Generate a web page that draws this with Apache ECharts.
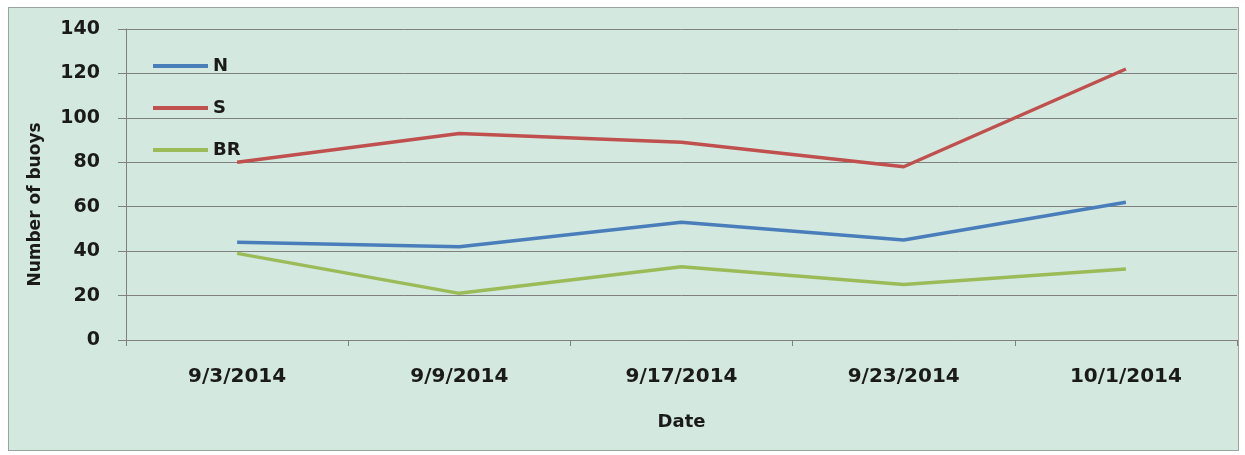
<!DOCTYPE html>
<html>
<head>
<meta charset="utf-8">
<script src="https://cdn.jsdelivr.net/npm/echarts@6/dist/echarts.min.js"></script>
<style>
  html, body { margin: 0; padding: 0; background: #ffffff; }
  #frame {
    position: absolute; left: 8px; top: 7px; width: 1229px; height: 442px;
    border: 1px solid #9aa5a0; background: #d3e8df;
  }
  #main { position: absolute; left: -9px; top: -8px; width: 1245px; height: 455px; }
</style>
</head>
<body>
<div id="frame"><div id="main"></div></div>
<script>
var dates = ['9/3/2014', '9/9/2014', '9/17/2014', '9/23/2014', '10/1/2014'];
var nValues = [44, 42, 53, 45, 62];
var sValues = [80, 93, 89, 78, 122];
var brValues = [39, 21, 33, 25, 32];

var myChart = echarts.init(document.getElementById('main'));
var font = 'DejaVu Sans';

var option = {
    animation: false,
    grid: { left: 126, right: 8, top: 29, bottom: 115 },
    legend: {
        orient: 'vertical',
        left: 148,
        top: 52,
        itemWidth: 55,
        itemHeight: 4,
        itemGap: 24,
        icon: 'rect',
        textStyle: { fontFamily: font, fontWeight: 'bold', fontSize: 18, color: '#1a1a1a' },
        data: ['N', 'S', 'BR']
    },
    xAxis: {
        type: 'category',
        data: dates,
        name: 'Date',
        nameLocation: 'middle',
        nameGap: 73,
        nameTextStyle: { fontFamily: font, fontWeight: 'bold', fontSize: 18, color: '#1a1a1a' },
        axisLine: { lineStyle: { color: '#808080', width: 1 } },
        axisTick: { show: true, length: 6, lineStyle: { color: '#808080' } },
        axisLabel: { fontFamily: font, fontWeight: 'bold', fontSize: 20, color: '#1a1a1a', margin: 27 }
    },
    yAxis: {
        type: 'value',
        min: 0,
        max: 140,
        interval: 20,
        name: 'Number of buoys',
        nameLocation: 'middle',
        nameGap: 82,
        nameTextStyle: { fontFamily: font, fontWeight: 'bold', fontSize: 17, color: '#1a1a1a', padding: [0, 40, 0, 0] },
        axisLine: { show: true, lineStyle: { color: '#808080', width: 1 } },
        axisTick: { show: true, length: 8, lineStyle: { color: '#808080' } },
        axisLabel: { fontFamily: font, fontWeight: 'bold', fontSize: 19, color: '#1a1a1a', margin: 26 },
        splitLine: { lineStyle: { color: '#808080', width: 1 } }
    },
    series: [
        { name: 'N', type: 'line', data: nValues, symbol: 'none', color: '#4a7ebb', lineStyle: { width: 3.5 } },
        { name: 'S', type: 'line', data: sValues, symbol: 'none', color: '#c0504d', lineStyle: { width: 3.5 } },
        { name: 'BR', type: 'line', data: brValues, symbol: 'none', color: '#9bbb59', lineStyle: { width: 3.5 } }
    ]
};

myChart.setOption(option);
</script>
</body>
</html>
